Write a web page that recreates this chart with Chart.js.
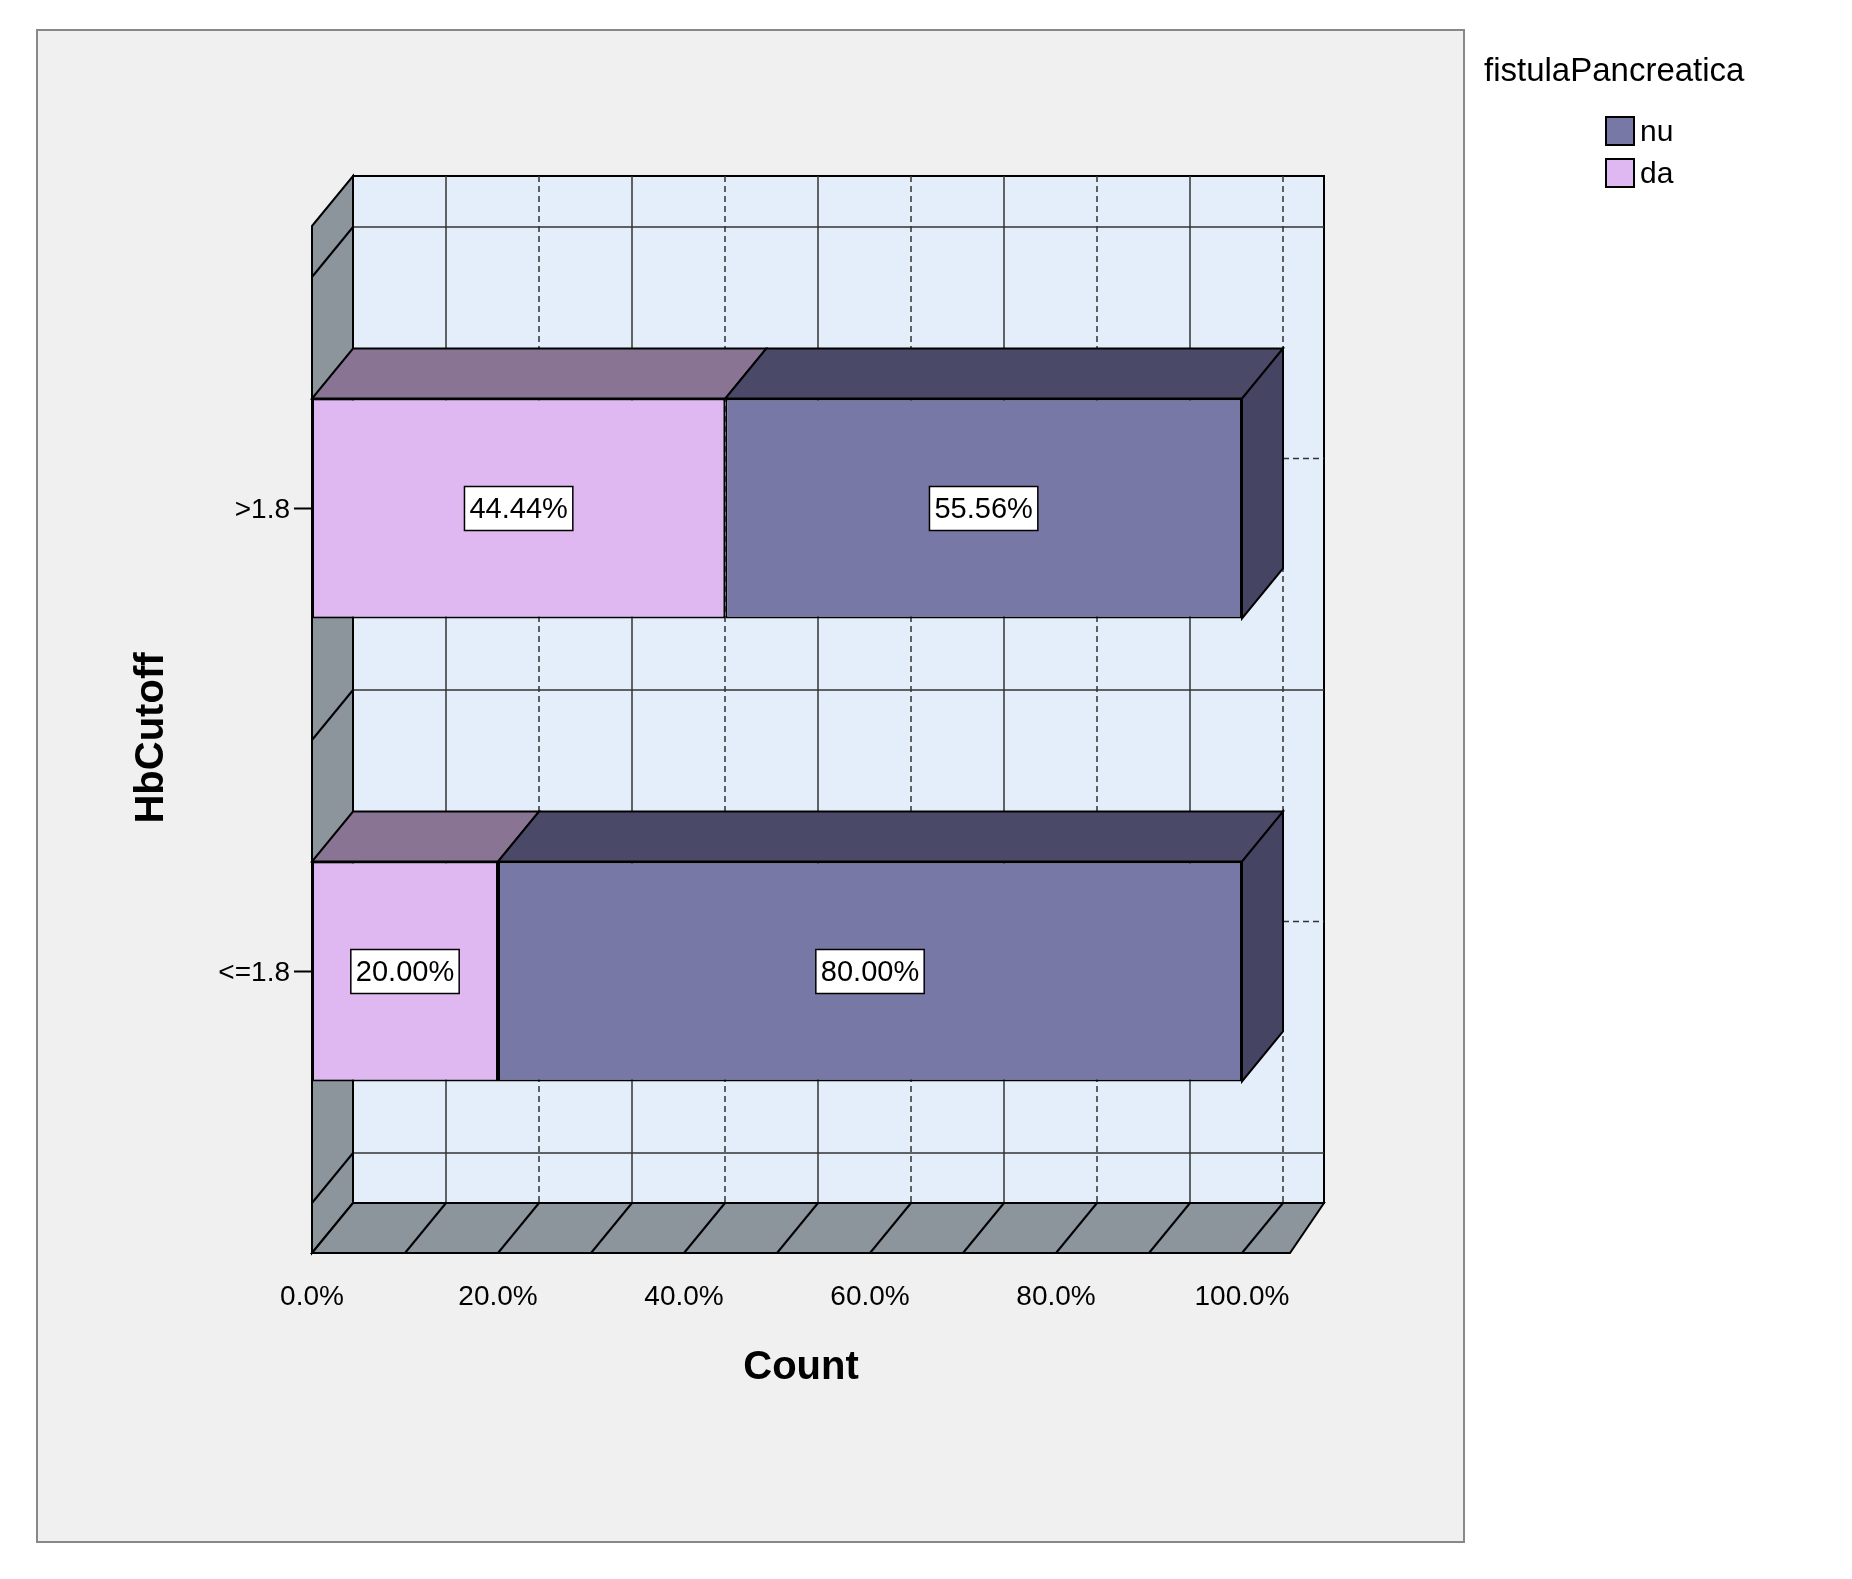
<!DOCTYPE html>
<html>
<head>
<meta charset="utf-8">
<script src="https://cdn.jsdelivr.net/npm/chart.js@4/dist/chart.umd.min.js"></script>
<style>
  html, body { margin: 0; padding: 0; background: #fff; }
  #wrap { width: 1852px; height: 1579px; }
</style>
</head>
<body>
<div id="wrap"><canvas id="c"></canvas></div>
<script>
const categories = [">1.8", "<=1.8"];
const daValues = [44.44, 20.00];
const nuValues = [55.56, 80.00];
const xTicks = [0, 20, 40, 60, 80, 100];
const legendItems = ["nu", "da"];

const DX = 41, DY = 50;
const FONT = "'Liberation Sans', Arial, sans-serif";

function poly(ctx, pts, fill) {
  ctx.beginPath();
  ctx.moveTo(pts[0][0], pts[0][1]);
  for (let i = 1; i < pts.length; i++) ctx.lineTo(pts[i][0], pts[i][1]);
  ctx.closePath();
  ctx.fillStyle = fill;
  ctx.fill();
  ctx.strokeStyle = "#000";
  ctx.lineWidth = 2;
  ctx.stroke();
}
function line(ctx, x1, y1, x2, y2, dash) {
  ctx.beginPath();
  ctx.setLineDash(dash ? [6, 4] : []);
  ctx.moveTo(x1, y1);
  ctx.lineTo(x2, y2);
  ctx.stroke();
  ctx.setLineDash([]);
}

const walls = {
  id: "walls",
  beforeDatasetsDraw(chart) {
    const ctx = chart.ctx;
    const a = chart.chartArea;
    const xs = chart.scales.x;
    const ys = chart.scales.y;
    ctx.save();
    // outer frame
    ctx.fillStyle = "#f0f0f0";
    ctx.fillRect(37, 30, 1427, 1512);
    ctx.strokeStyle = "#888";
    ctx.lineWidth = 2;
    ctx.strokeRect(37, 30, 1427, 1512);

    const backTop = a.top - 101;
    const backRight = a.right + 2 * DX;
    // back wall
    poly(ctx, [[a.left + DX, backTop], [backRight, backTop], [backRight, a.bottom], [a.left + DX, a.bottom]], "#e3eefa");
    // vertical back lines each 10%
    ctx.strokeStyle = "#333";
    ctx.lineWidth = 1.5;
    for (let v = 10; v <= 100; v += 10) {
      const px = xs.getPixelForValue(v) + DX;
      line(ctx, px, backTop, px, a.bottom, v % 20 === 0);
    }
    // horizontal back lines at category boundaries
    const half = (ys.getPixelForValue(1) - ys.getPixelForValue(0)) / 2;
    const bounds = [a.top, ys.getPixelForValue(0) + half, a.bottom];
    bounds.forEach(b => line(ctx, a.left + DX, b - DY, backRight, b - DY, false));
    // short dashes behind bar ends
    categories.forEach((c, i) => {
      const py = ys.getPixelForValue(i) - DY;
      line(ctx, xs.getPixelForValue(100) + DX, py, backRight, py, true);
    });
    // left wall
    ctx.lineWidth = 2;
    poly(ctx, [[a.left, a.top - 101 + DY], [a.left + DX, backTop], [a.left + DX, a.bottom], [a.left, a.bottom + DY]], "#8c949c");
    ctx.strokeStyle = "#000";
    bounds.forEach(b => line(ctx, a.left, b, a.left + DX, b - DY, false));
    // floor
    poly(ctx, [[a.left, a.bottom + DY], [a.left + DX, a.bottom], [backRight, a.bottom], [a.right + DX + 7, a.bottom + DY]], "#8c949c");
    ctx.strokeStyle = "#000";
    for (let v = 10; v <= 100; v += 10) {
      const px = xs.getPixelForValue(v);
      line(ctx, px, a.bottom + DY, px + DX, a.bottom, false);
    }
    ctx.restore();
  },
  afterDatasetsDraw(chart) {
    const ctx = chart.ctx;
    const a = chart.chartArea;
    const xs = chart.scales.x;
    const ys = chart.scales.y;
    ctx.save();
    const topCols = ["#8a7494", "#4a4a68"];
    chart.data.datasets.forEach((ds, di) => {
      chart.getDatasetMeta(di).data.forEach((bar, i) => {
        const top = bar.y - bar.height / 2, bot = bar.y + bar.height / 2;
        poly(ctx, [[bar.base, top], [bar.x, top], [bar.x + DX, top - DY], [bar.base + DX, top - DY]], topCols[di]);
        if (di === chart.data.datasets.length - 1) {
          poly(ctx, [[bar.x, top], [bar.x + DX, top - DY], [bar.x + DX, bot - DY], [bar.x, bot]], "#454563");
        }
        // value label
        const txt = ds.data[i].toFixed(2) + "%";
        ctx.font = "29px " + FONT;
        const w = ctx.measureText(txt).width + 10;
        const cx = (bar.base + bar.x) / 2;
        ctx.fillStyle = "#fff";
        ctx.fillRect(cx - w / 2, bar.y - 22, w, 44);
        ctx.strokeStyle = "#000";
        ctx.lineWidth = 1.5;
        ctx.strokeRect(cx - w / 2, bar.y - 22, w, 44);
        ctx.fillStyle = "#000";
        ctx.textAlign = "center";
        ctx.textBaseline = "middle";
        ctx.fillText(txt, cx, bar.y + 1);
      });
    });
    // x ticks
    ctx.fillStyle = "#000";
    ctx.font = "28px " + FONT;
    ctx.textAlign = "center";
    ctx.textBaseline = "middle";
    xTicks.forEach(v => ctx.fillText(v.toFixed(1) + "%", xs.getPixelForValue(v), a.bottom + 94));
    // y ticks
    ctx.textAlign = "right";
    ctx.strokeStyle = "#000";
    ctx.lineWidth = 2;
    categories.forEach((c, i) => {
      const py = ys.getPixelForValue(i);
      ctx.fillText(c, a.left - 22, py + 2);
      line(ctx, a.left - 18, py, a.left, py, false);
    });
    // axis titles
    ctx.font = "bold 40px " + FONT;
    ctx.textAlign = "center";
    ctx.fillText("Count", 801, 1368);
    ctx.save();
    ctx.translate(152, 738);
    ctx.rotate(-Math.PI / 2);
    ctx.fillText("HbCutoff", 0, 0);
    ctx.restore();
    // legend
    ctx.font = "33px " + FONT;
    ctx.textAlign = "left";
    ctx.fillText("fistulaPancreatica", 1484, 72);
    const cols = ["#7878a6", "#dfb8f2"];
    legendItems.forEach((t, i) => {
      const y = 131 + i * 42;
      ctx.fillStyle = cols[i];
      ctx.fillRect(1606, y - 14, 28, 28);
      ctx.strokeStyle = "#000";
      ctx.lineWidth = 2;
      ctx.strokeRect(1606, y - 14, 28, 28);
      ctx.fillStyle = "#000";
      ctx.font = "30px " + FONT;
      ctx.fillText(t, 1640, y + 2);
    });
    ctx.restore();
  }
};

new Chart(document.getElementById("c"), {
  type: "bar",
  data: {
    labels: categories,
    datasets: [
      { label: "da", data: daValues, backgroundColor: "#dfb8f2", borderColor: "#000", borderWidth: 2, borderSkipped: false },
      { label: "nu", data: nuValues, backgroundColor: "#7878a6", borderColor: "#000", borderWidth: 2, borderSkipped: false }
    ]
  },
  options: {
    indexAxis: "y",
    responsive: true,
    maintainAspectRatio: false,
    animation: false,
    layout: { padding: { left: 312, right: 610, top: 277, bottom: 376 } },
    plugins: { legend: { display: false }, tooltip: { enabled: false } },
    scales: {
      x: { stacked: true, min: 0, max: 100, display: false },
      y: { stacked: true, display: false, categoryPercentage: 1, barPercentage: 0.475 }
    },
    datasets: { bar: { categoryPercentage: 1, barPercentage: 0.475 } }
  },
  plugins: [walls]
});
</script>
</body>
</html>
